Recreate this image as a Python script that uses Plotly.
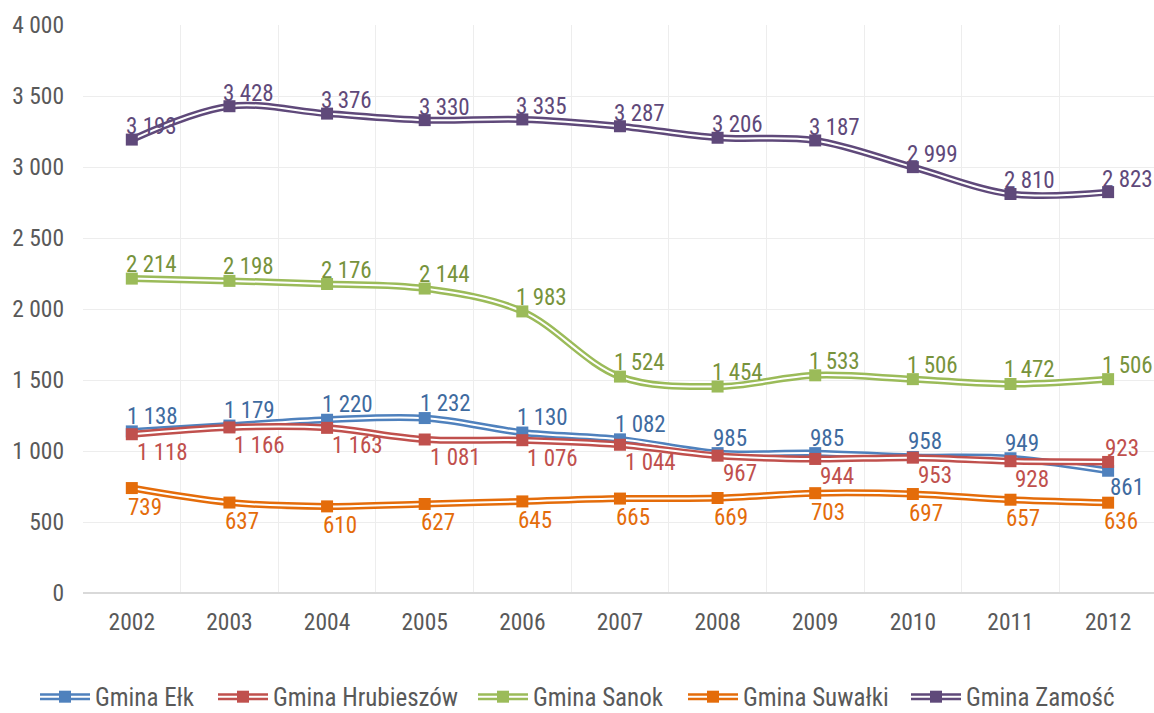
import plotly.graph_objects as go

years = [2002, 2003, 2004, 2005, 2006, 2007, 2008, 2009, 2010, 2011, 2012]
year_labels = [str(y) for y in years]
series_names = ["Gmina Ełk", "Gmina Hrubieszów", "Gmina Sanok", "Gmina Suwałki", "Gmina Zamość"]
elk = [1138, 1179, 1220, 1232, 1130, 1082, 985, 985, 958, 949, 861]
hrubieszow = [1118, 1166, 1163, 1081, 1076, 1044, 967, 944, 953, 928, 923]
sanok = [2214, 2198, 2176, 2144, 1983, 1524, 1454, 1533, 1506, 1472, 1506]
suwalki = [739, 637, 610, 627, 645, 665, 669, 703, 697, 657, 636]
zamosc = [3193, 3428, 3376, 3330, 3335, 3287, 3206, 3187, 2999, 2810, 2823]
y_ticks = [0, 500, 1000, 1500, 2000, 2500, 3000, 3500, 4000]

# styles (kept separate from data)
line_colors = ["#4F81BD", "#C0504D", "#9BBB59", "#E46C0A", "#5F497A"]
label_colors = ["#3F6B9F", "#C0504D", "#77933C", "#E46C0A", "#5F497A"]
label_pos = [
    ["above"] * 10 + ["below"],
    ["below"] * 10 + ["above"],
    ["above"] * 11,
    ["below"] * 11,
    ["above"] * 11,
]
# (xshift, yshift) per series for above / below
offsets = [
    {"above": (-7, 15), "below": (0, -17)},
    {"above": (-5, 13), "below": (3, -18)},
    {"above": (-8, 14), "below": (-6, -18)},
    {"above": (-6, 14), "below": (-6, -19)},
    {"above": (-8, 13), "below": (-6, -18)},
]
PLOT_L, PLOT_W = 83, 1071
legend_px = [35, 213, 473, 683, 906]

FONT = "Liberation Sans Narrow, Arial Narrow, Roboto Condensed, Liberation Sans, sans-serif"
LEG_FONT = 25
all_series = [elk, hrubieszow, sanok, suwalki, zamosc]

fig = go.Figure()
annotations = []
legend_layouts = {}


def leg_name(k):
    return "legend" if k == 1 else f"legend{k}"


for i, (name, vals) in enumerate(zip(series_names, all_series)):
    c = line_colors[i]
    lgs = [leg_name(3 * i + 1), leg_name(3 * i + 2), leg_name(3 * i + 3)]
    for lg in lgs:
        legend_layouts[lg] = dict(
            orientation="h", x=(legend_px[i] - PLOT_L) / PLOT_W, xanchor="left",
            y=-0.183, yanchor="middle",
            font=dict(family=FONT, size=LEG_FONT, color="#595959"),
            itemwidth=50, bgcolor="rgba(0,0,0,0)",
            itemclick=False, itemdoubleclick=False,
        )
    fig.add_trace(go.Scatter(
        x=years, y=vals, name=name, mode="lines",
        line=dict(color=c, width=7, shape="spline", smoothing=1),
        legendgroup=name, showlegend=True, legend=lgs[0],
    ))
    fig.add_trace(go.Scatter(
        x=years, y=vals, name=" ", mode="lines", hoverinfo="skip",
        line=dict(color="white", width=2, shape="spline", smoothing=1),
        legendgroup=name, showlegend=True, legend=lgs[1],
    ))
    fig.add_trace(go.Scatter(
        x=years, y=vals, name=" ", mode="markers",
        marker=dict(symbol="square", size=12, color=c),
        legendgroup=name, showlegend=True, legend=lgs[2],
    ))
    for j, (xv, yv) in enumerate(zip(years, vals)):
        p = label_pos[i][j]
        dx, dy = offsets[i][p]
        annotations.append(dict(
            x=xv, y=yv, xref="x", yref="y",
            text=f"{yv:,}".replace(",", " "),
            showarrow=False, xanchor="left", yanchor="middle",
            xshift=dx, yshift=dy,
            font=dict(family=FONT, size=23, color=label_colors[i]),
        ))

fig.update_layout(
    width=1154, height=713,
    margin=dict(l=PLOT_L, r=0, t=25, b=120, autoexpand=False),
    paper_bgcolor="white", plot_bgcolor="white",
    separators=", ",
    font=dict(family=FONT, size=22, color="#595959"),
    annotations=annotations,
    showlegend=True,
    **legend_layouts,
)
fig.update_xaxes(
    range=[2001.5, 2012.47], automargin=False,
    tickvals=years, ticktext=year_labels,
    showgrid=False, zeroline=False,
    showline=False, ticks="", ticklabelstandoff=12,
    tickfont=dict(family=FONT, size=23.5, color="#595959"),
    minor=dict(tickvals=[y - 0.5 for y in years] + [years[-1] + 0.5], showgrid=True,
               gridcolor="#EDEDED", gridwidth=1.3, ticks=""),
)
fig.update_yaxes(
    range=[0, 4000], tickvals=y_ticks, tickformat=",d", automargin=False,
    showgrid=True, gridcolor="#EDEDED", gridwidth=1.3,
    zeroline=True, zerolinecolor="#D9D9D9", zerolinewidth=1.5,
    showline=False, ticks="", ticklabelstandoff=18,
    tickfont=dict(family=FONT, size=23.5, color="#595959"),
)

fig.write_html(
    "out.html",
    config={"displayModeBar": False},
    post_script="document.body.style.margin='0';document.body.style.overflow='hidden';",
)
